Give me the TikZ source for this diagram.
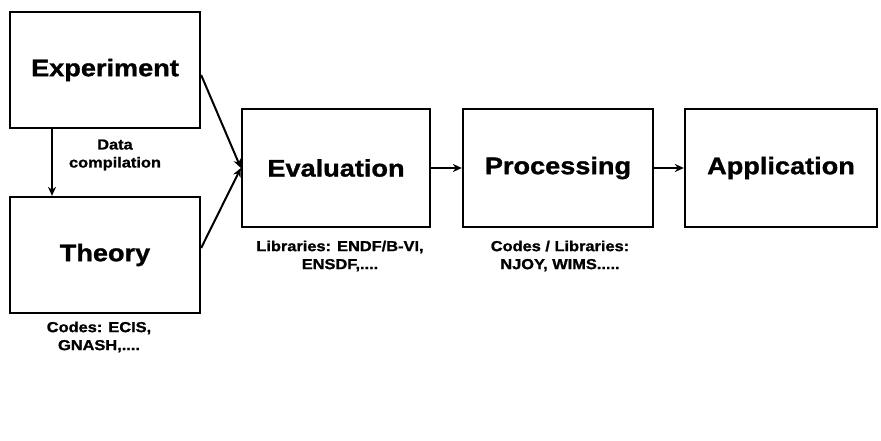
\documentclass[tikz,border=0pt]{standalone}
\usepackage{fontspec}
\newfontfamily\lab[FakeStretch=1.13,FakeBold=1.2]{Liberation Sans}
\usetikzlibrary{arrows.meta}
\begin{document}
\begin{tikzpicture}[x=1pt,y=-1pt,
  box/.style={draw, line width=2.3pt, inner sep=0pt, font=\lab\bfseries\fontsize{24}{28}\selectfont},
  note/.style={align=center, inner sep=0pt, font=\lab\bfseries\fontsize{14.5}{18}\selectfont},
  conn/.style={line width=2pt, -{Stealth[length=9pt,width=8pt]}}]
\path[use as bounding box, fill=white] (0,0) rectangle (881,441);
\node[box, minimum width=190pt, minimum height=116pt] (exp) at (105,70) {\raisebox{4pt}{Experiment}};
\node[box, minimum width=190pt, minimum height=116pt] (thy) at (105,255) {Theory};
\node[box, minimum width=188pt, minimum height=118pt] (eva) at (336,168) {Evaluation};
\node[box, minimum width=190pt, minimum height=118pt] (pro) at (558,168) {Processing};
\node[box, minimum width=192pt, minimum height=118pt] (app) at (781,168) {Application};
\draw[conn] ([xshift=-53pt]exp.south) -- ([xshift=-53pt]thy.north);
\draw[conn] ([yshift=-5pt]exp.east) -- (eva.west);
\draw[conn] ([yshift=7pt]thy.east) -- (eva.west);
\draw[conn] (eva.east) -- (pro.west);
\draw[conn] (pro.east) -- (app.west);
\node[note] (dc) at (115,155) {Data\\compilation};
\node[note] (ln) at (340,256) {Libraries: ENDF/B-VI,\\ENSDF,....};
\node[note] (pn) at (560,256) {Codes / Libraries:\\NJOY, WIMS.....};
\node[note] (tn) at (99,337) {Codes: ECIS,\\GNASH,....};
\end{tikzpicture}
\end{document}
